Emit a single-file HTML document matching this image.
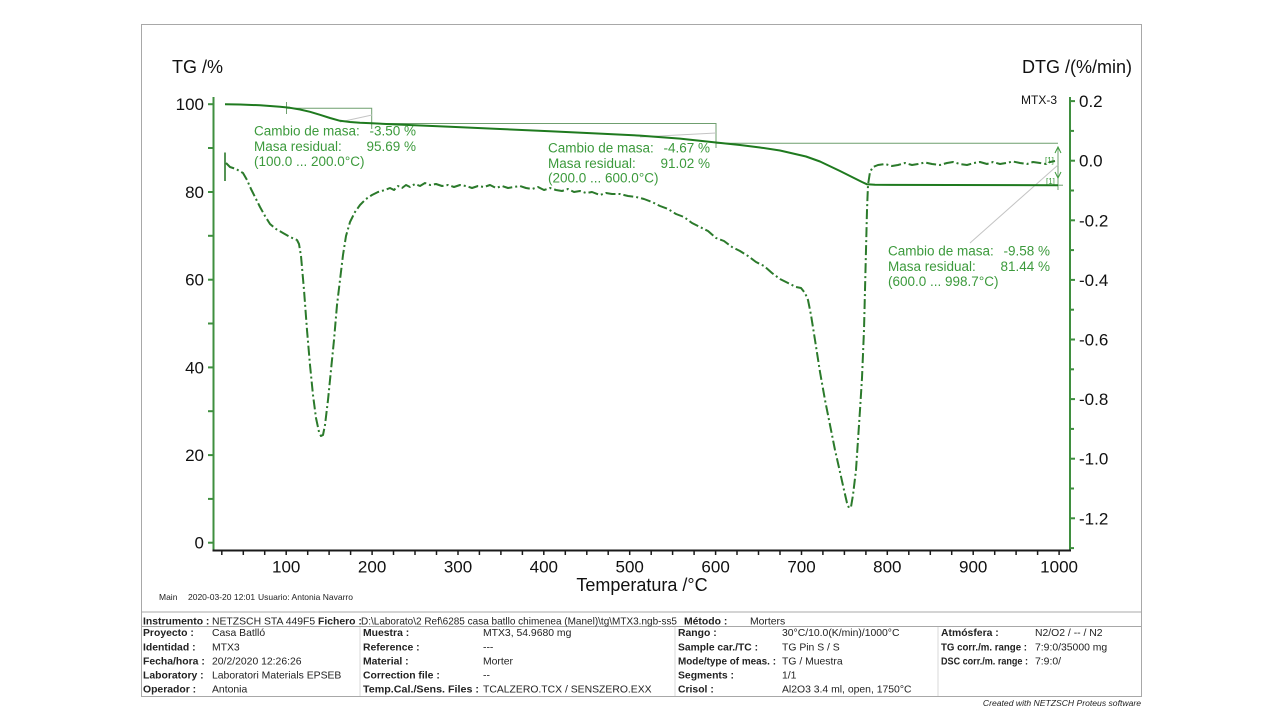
<!DOCTYPE html>
<html><head><meta charset="utf-8"><style>
html,body{margin:0;padding:0;background:#fff;}
svg{display:block;}
text{font-family:"Liberation Sans",Arial,sans-serif;}
.ax{font-size:17px;fill:#111;}
.an{font-size:13.5px;fill:#3c9a3c;}
.tb{font-size:10.4px;fill:#222;}
.b{font-weight:bold;}
</style></head><body>
<svg width="1280" height="720" viewBox="0 0 1280 720" xmlns="http://www.w3.org/2000/svg">
<rect x="0" y="0" width="1280" height="720" fill="#fff"/>
<!-- outer frame -->
<rect x="141.5" y="24.5" width="1000" height="672" fill="none" stroke="#a8a8a8" stroke-width="1"/>

<!-- axis titles -->
<text x="172" y="73" style="font-size:18px;fill:#111">TG /%</text>
<text x="1132" y="73" text-anchor="end" style="font-size:18px;fill:#111">DTG /(%/min)</text>
<text x="1021" y="104" style="font-size:12px;fill:#111">MTX-3</text>
<text x="642" y="591" text-anchor="middle" style="font-size:18px;fill:#111">Temperatura /°C</text>

<!-- left axis -->
<g stroke="#3f8f3f" stroke-width="2">
<line x1="213.5" y1="97" x2="213.5" y2="551"/>
<line x1="208" y1="104.2" x2="213" y2="104.2"/>
<line x1="208" y1="148" x2="213" y2="148"/>
<line x1="208" y1="192" x2="213" y2="192"/>
<line x1="208" y1="235.8" x2="213" y2="235.8"/>
<line x1="208" y1="279.7" x2="213" y2="279.7"/>
<line x1="208" y1="323.5" x2="213" y2="323.5"/>
<line x1="208" y1="367.4" x2="213" y2="367.4"/>
<line x1="208" y1="411.2" x2="213" y2="411.2"/>
<line x1="208" y1="455.1" x2="213" y2="455.1"/>
<line x1="208" y1="498.9" x2="213" y2="498.9"/>
<line x1="208" y1="542.7" x2="213" y2="542.7"/>
</g>
<g class="ax" text-anchor="end">
<text x="204" y="110.2">100</text>
<text x="204" y="198">80</text>
<text x="204" y="285.7">60</text>
<text x="204" y="373.4">40</text>
<text x="204" y="461.1">20</text>
<text x="204" y="548.7">0</text>
</g>

<!-- right axis -->
<g stroke="#3f8f3f" stroke-width="2">
<line x1="1070" y1="97" x2="1070" y2="551"/>
<line x1="1070" y1="101.1" x2="1075" y2="101.1"/>
<line x1="1070" y1="130.9" x2="1074" y2="130.9"/>
<line x1="1070" y1="160.7" x2="1075" y2="160.7"/>
<line x1="1070" y1="190.5" x2="1074" y2="190.5"/>
<line x1="1070" y1="220.3" x2="1075" y2="220.3"/>
<line x1="1070" y1="250.1" x2="1074" y2="250.1"/>
<line x1="1070" y1="279.9" x2="1075" y2="279.9"/>
<line x1="1070" y1="309.7" x2="1074" y2="309.7"/>
<line x1="1070" y1="339.5" x2="1075" y2="339.5"/>
<line x1="1070" y1="369.3" x2="1074" y2="369.3"/>
<line x1="1070" y1="399.1" x2="1075" y2="399.1"/>
<line x1="1070" y1="428.9" x2="1074" y2="428.9"/>
<line x1="1070" y1="458.7" x2="1075" y2="458.7"/>
<line x1="1070" y1="488.5" x2="1074" y2="488.5"/>
<line x1="1070" y1="518.3" x2="1075" y2="518.3"/>
<line x1="1070" y1="548.1" x2="1074" y2="548.1"/>
</g>
<g class="ax">
<text x="1079" y="107.1">0.2</text>
<text x="1079" y="166.7">0.0</text>
<text x="1079" y="226.3">-0.2</text>
<text x="1079" y="285.9">-0.4</text>
<text x="1079" y="345.5">-0.6</text>
<text x="1079" y="405.1">-0.8</text>
<text x="1079" y="464.7">-1.0</text>
<text x="1079" y="524.3">-1.2</text>
</g>

<!-- x axis -->
<line x1="212.5" y1="550.5" x2="1071" y2="550.5" stroke="#1a1a1a" stroke-width="2"/>
<g stroke="#1a1a1a" stroke-width="1.5">
<line x1="221.8" y1="551" x2="221.8" y2="555"/><line x1="243.3" y1="551" x2="243.3" y2="555"/><line x1="264.7" y1="551" x2="264.7" y2="555"/><line x1="286.2" y1="551" x2="286.2" y2="555"/>
<line x1="307.7" y1="551" x2="307.7" y2="555"/><line x1="329.1" y1="551" x2="329.1" y2="555"/><line x1="350.6" y1="551" x2="350.6" y2="555"/><line x1="372.1" y1="551" x2="372.1" y2="555"/>
<line x1="393.5" y1="551" x2="393.5" y2="555"/><line x1="415" y1="551" x2="415" y2="555"/><line x1="436.5" y1="551" x2="436.5" y2="555"/><line x1="458" y1="551" x2="458" y2="555"/>
<line x1="479.4" y1="551" x2="479.4" y2="555"/><line x1="500.9" y1="551" x2="500.9" y2="555"/><line x1="522.4" y1="551" x2="522.4" y2="555"/><line x1="543.8" y1="551" x2="543.8" y2="555"/>
<line x1="565.3" y1="551" x2="565.3" y2="555"/><line x1="586.8" y1="551" x2="586.8" y2="555"/><line x1="608.2" y1="551" x2="608.2" y2="555"/><line x1="629.7" y1="551" x2="629.7" y2="555"/>
<line x1="651.2" y1="551" x2="651.2" y2="555"/><line x1="672.6" y1="551" x2="672.6" y2="555"/><line x1="694.1" y1="551" x2="694.1" y2="555"/><line x1="715.6" y1="551" x2="715.6" y2="555"/>
<line x1="737" y1="551" x2="737" y2="555"/><line x1="758.5" y1="551" x2="758.5" y2="555"/><line x1="780" y1="551" x2="780" y2="555"/><line x1="801.5" y1="551" x2="801.5" y2="555"/>
<line x1="822.9" y1="551" x2="822.9" y2="555"/><line x1="844.4" y1="551" x2="844.4" y2="555"/><line x1="865.9" y1="551" x2="865.9" y2="555"/><line x1="887.3" y1="551" x2="887.3" y2="555"/>
<line x1="908.8" y1="551" x2="908.8" y2="555"/><line x1="930.3" y1="551" x2="930.3" y2="555"/><line x1="951.7" y1="551" x2="951.7" y2="555"/><line x1="973.2" y1="551" x2="973.2" y2="555"/>
<line x1="994.7" y1="551" x2="994.7" y2="555"/><line x1="1016.1" y1="551" x2="1016.1" y2="555"/><line x1="1037.6" y1="551" x2="1037.6" y2="555"/><line x1="1059.1" y1="551" x2="1059.1" y2="555"/>
</g>
<g class="ax" text-anchor="middle">
<text x="286.2" y="572.7">100</text>
<text x="372.1" y="572.7">200</text>
<text x="458" y="572.7">300</text>
<text x="543.8" y="572.7">400</text>
<text x="629.7" y="572.7">500</text>
<text x="715.6" y="572.7">600</text>
<text x="801.5" y="572.7">700</text>
<text x="887.3" y="572.7">800</text>
<text x="973.2" y="572.7">900</text>
<text x="1059.1" y="572.7">1000</text>
</g>

<!-- annotation helper lines -->
<g stroke="#6f9f6f" stroke-width="1" fill="none">
<line x1="286.5" y1="102" x2="286.5" y2="114"/>
<polyline points="286.5,108.3 371.7,108.3 371.7,129"/>
<polyline points="372,123.5 716,123.5 716,148"/>
<polyline points="716,143.3 1058,143.3"/>
<line x1="1058" y1="148" x2="1058" y2="190"/>
<line x1="1050" y1="185.2" x2="1063" y2="185.2"/>
</g>
<g stroke="#c4c4c4" stroke-width="1">
<line x1="340" y1="122" x2="372" y2="115"/>
<line x1="640" y1="137" x2="716" y2="133"/>
<line x1="1058" y1="165" x2="970" y2="243"/>
</g>
<g stroke="#3c9a3c" stroke-width="1" fill="none">
<polyline points="1055,153 1058,147 1061,153"/>
<polyline points="1055,172 1058,178 1061,172"/>
</g>
<text x="1045" y="163" style="font-size:8px;fill:#3c9a3c">[1]</text>
<text x="1046" y="184" style="font-size:8px;fill:#3c9a3c">[1]</text>

<!-- TG curve -->
<polyline fill="none" stroke="#1f7a1f" stroke-width="2" stroke-linejoin="round" points="225,104.3 240,104.5 260,105.3 280,106.7 290,107.8 300,109.5 310,111.8 320,114.8 330,118 340,120.8 350,122 360,122.8 372,123.3 400,124.6 450,126.8 500,129 550,131.3 600,133.6 640,135.6 680,138.6 716,142.5 740,145 760,147.5 780,150.5 806,156.5 820,161.5 840,171 855,178.5 862,182 867,184.3 875,184.8 950,185 1058,185.2"/>

<!-- DTG curve -->
<line x1="225" y1="152.5" x2="225" y2="181" stroke="#2b7a2b" stroke-width="1.6"/>
<polyline fill="none" stroke="#2b7a2b" stroke-width="2" stroke-dasharray="10 3 2 3" stroke-linejoin="round" points="226,163 230,167 236,169 243,173 247,180 251,189 255,197 260,207 265,216 270,224 276,229 283,233 290,237 297,240 299,244 301,256 304,290 307,330 310,365 313,395 316,418 319,432 321,436 323,435 325,425 328,400 331,370 334,340 337,305 340,280 343,255 346,236 350,222 355,212 360,205 366,199 372,195 378,192 385,190 390,188 394,190 398,186 402,188 406,185 410,187 415,184 420,186 425,183 430,185 436,184 442,186 448,185 454,187 460,185 466,186 472,188 478,186 484,187 490,185 496,188 502,186 508,188 514,187 520,186 526,188 532,189 538,187 544,190 550,188 556,190 562,191 568,189 574,192 580,191 586,193 592,192 600,195 606,193 612,194 620,194 628,196 636,197 644,199 652,202 660,206 668,209 676,214 684,217 692,223 700,227 708,231 716,238 724,241 732,247 740,251 748,256 756,262 764,266 772,273 780,279 788,283 796,287 801,288 805,293 808,300 811,315 815,340 820,372 825,400 830,425 835,450 840,472 844,490 847,503 849,508 851,507 853,495 856,470 858,440 860,410 862,378 864,330 865,290 866,250 867,210 868,185 870,172 873,167 878,165 885,164 892,166 898,165 905,163 912,165 918,164 925,162.5 932,164 940,165 947,163 953,162 960,164 967,165 974,163 980,162 987,164 993,162 1000,164 1006,163 1013,161.5 1020,163 1027,164 1033,162 1040,163 1046,164 1050,162 1055,161"/>

<!-- annotations -->
<g class="an">
<text x="254" y="135.7">Cambio de masa:</text>
<text x="416" y="135.7" text-anchor="end">-3.50 %</text>
<text x="254" y="151">Masa residual:</text>
<text x="416" y="151" text-anchor="end">95.69 %</text>
<text x="254" y="166">(100.0 ... 200.0°C)</text>

<text x="548" y="152.5">Cambio de masa:</text>
<text x="710" y="152.5" text-anchor="end">-4.67 %</text>
<text x="548" y="167.8">Masa residual:</text>
<text x="710" y="167.8" text-anchor="end">91.02 %</text>
<text x="548" y="182.5">(200.0 ... 600.0°C)</text>

<text x="888" y="255.7">Cambio de masa:</text>
<text x="1050" y="255.7" text-anchor="end">-9.58 %</text>
<text x="888" y="271">Masa residual:</text>
<text x="1050" y="271" text-anchor="end">81.44 %</text>
<text x="888" y="286">(600.0 ... 998.7°C)</text>
</g>

<!-- footer info -->
<text x="159" y="600" style="font-size:8.5px;fill:#222">Main</text>
<text x="188" y="600" style="font-size:8.5px;fill:#222">2020-03-20 12:01</text>
<text x="258" y="600" style="font-size:8.5px;fill:#222">Usuario: Antonia Navarro</text>

<!-- table -->
<g stroke="#a8a8a8" stroke-width="1">
<line x1="141.5" y1="612" x2="1141.5" y2="612"/>
<line x1="141.5" y1="626.5" x2="1141.5" y2="626.5"/>
<line x1="141.5" y1="696.5" x2="1141.5" y2="696.5"/>
</g>
<g stroke="#d8d8d8" stroke-width="1">
<line x1="360" y1="627" x2="360" y2="696"/>
<line x1="675" y1="627" x2="675" y2="696"/>
<line x1="938" y1="627" x2="938" y2="696"/>
</g>
<g class="tb">
<text x="143" y="624.3" class="b">Instrumento :</text>
<text x="212" y="624.3">NETZSCH STA 449F5</text>
<text x="318" y="624.3" class="b">Fichero :</text>
<text x="361" y="624.3" textLength="316" lengthAdjust="spacingAndGlyphs">D:\Laborato\2 Ref\6285 casa batllo chimenea (Manel)\tg\MTX3.ngb-ss5</text>
<text x="684" y="624.3" class="b">Método :</text>
<text x="750" y="624.3">Morters</text>

<text x="143" y="636" class="b">Proyecto :</text><text x="212" y="636">Casa Batlló</text>
<text x="363" y="636" class="b">Muestra :</text><text x="483" y="636">MTX3, 54.9680 mg</text>
<text x="678" y="636" class="b">Rango :</text><text x="782" y="636">30°C/10.0(K/min)/1000°C</text>
<text x="941" y="636" class="b">Atmósfera :</text><text x="1035" y="636">N2/O2 / -- / N2</text>

<text x="143" y="650.3" class="b">Identidad :</text><text x="212" y="650.3">MTX3</text>
<text x="363" y="650.3" class="b">Reference :</text><text x="483" y="650.3">---</text>
<text x="678" y="650.3" class="b" textLength="80" lengthAdjust="spacingAndGlyphs">Sample car./TC :</text><text x="782" y="650.3">TG Pin S / S</text>
<text x="941" y="650.3" class="b" textLength="86" lengthAdjust="spacingAndGlyphs">TG corr./m. range :</text><text x="1035" y="650.3">7:9:0/35000 mg</text>

<text x="143" y="664.3" class="b">Fecha/hora :</text><text x="212" y="664.3">20/2/2020 12:26:26</text>
<text x="363" y="664.3" class="b">Material :</text><text x="483" y="664.3">Morter</text>
<text x="678" y="664.3" class="b" textLength="98" lengthAdjust="spacingAndGlyphs">Mode/type of meas. :</text><text x="782" y="664.3">TG / Muestra</text>
<text x="941" y="664.3" class="b" textLength="87" lengthAdjust="spacingAndGlyphs">DSC corr./m. range :</text><text x="1035" y="664.3">7:9:0/</text>

<text x="143" y="678.3" class="b">Laboratory :</text><text x="212" y="678.3">Laboratori Materials EPSEB</text>
<text x="363" y="678.3" class="b">Correction file :</text><text x="483" y="678.3">--</text>
<text x="678" y="678.3" class="b">Segments :</text><text x="782" y="678.3">1/1</text>

<text x="143" y="692.3" class="b">Operador :</text><text x="212" y="692.3">Antonia</text>
<text x="363" y="692.3" class="b" textLength="116" lengthAdjust="spacingAndGlyphs">Temp.Cal./Sens. Files :</text><text x="483" y="692.3">TCALZERO.TCX / SENSZERO.EXX</text>
<text x="678" y="692.3" class="b">Crisol :</text><text x="782" y="692.3">Al2O3 3.4 ml, open, 1750°C</text>
</g>
<text x="1141" y="706" text-anchor="end" style="font-size:8.6px;font-style:italic;fill:#222">Created with NETZSCH Proteus software</text>
</svg>
</body></html>
